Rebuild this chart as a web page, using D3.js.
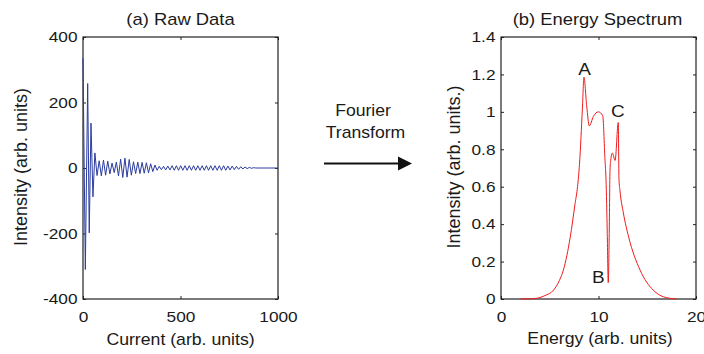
<!DOCTYPE html>
<html>
<head>
<meta charset="utf-8">
<script src="https://cdn.jsdelivr.net/npm/d3@7"></script>
<style>
  body { margin: 0; background: #fff; }
  svg { display: block; }
  text { font-family: "Liberation Sans", Arial, Helvetica, sans-serif; fill: #1a1a1a; }
</style>
</head>
<body>
<div id="chart"></div>
<script>
// (a) raw data: extrema of the damped oscillation
const rawCurrent = [0, 12, 24, 32, 41, 51, 61, 72, 83, 94, 105, 116, 127, 138, 149, 160,
  171, 182, 193, 204, 215, 226, 237, 248, 259, 270, 281, 292, 303, 314, 325, 336, 347,
  358, 369, 380, 391, 402, 413, 424, 435, 446, 457, 468, 479, 490, 501, 512, 523, 534,
  545, 556, 567, 578, 589, 600, 611, 622, 633, 644, 655, 666, 677, 688, 699, 710, 721,
  732, 743, 754, 765, 776, 787, 798, 809, 820, 831, 842, 853, 864, 875, 886, 1000];
const rawIntensity = [335, -310, 258, -198, 137, -88, 46, -23, 22, -24, 24, -22, 21, -18,
  15, -14, 18, -24, 27, -29, 30, -28, 26, -22, 19, -17, 18, -17, 17, -16, 16, -15, 13,
  -11, 9, -7, 5, -5, 5, -6, 6, -6, 7, -7, 7, -7, 7, -7, 7, -7, 7, -7, 7, -7, 7, -7, 7,
  -7, 7, -7, 7, -7, 7, -7, 7, -7, 7, -7, 6, -6, 6, -5, 5, -4, 4, -3, 3, -2, 2, -1, 1, 0, 0];

// (b) energy spectrum
const energy = [2, 3, 3.7, 4.5, 5.4, 6, 6.4, 7.1, 7.6, 7.85, 8.05, 8.2, 8.35, 8.51, 8.79,
  9.06, 9.47, 9.98, 10.43, 10.67, 10.77, 10.9, 11.0, 11.1, 11.18, 11.25, 11.42, 11.7,
  12.03, 12.1, 12.2, 12.55, 13.1, 14.26, 15.6, 16.5, 17.3, 18];
const spectrum = [0, 0.001, 0.004, 0.018, 0.048, 0.1, 0.155, 0.33, 0.51, 0.6, 0.72, 0.86,
  1.02, 1.185, 1.03, 0.925, 0.975, 1.0, 0.98, 0.74, 0.64, 0.35, 0.087, 0.35, 0.69, 0.74,
  0.78, 0.74, 0.943, 0.64, 0.58, 0.46, 0.33, 0.155, 0.048, 0.015, 0.004, 0];

const peakNames = ["A", "B", "C"];
const peakEnergy = [8.51, 11.0, 12.03];
const peakValue = [1.185, 0.087, 0.943];

const rawXTicks = [0, 500, 1000];
const rawYTicks = [-400, -200, 0, 200, 400];
const specXTicks = [0, 10, 20];
const specYTicks = [0, 0.2, 0.4, 0.6, 0.8, 1, 1.2, 1.4];

const W = 704, H = 354;
const plotTop = 37, plotBottom = 299;

const svg = d3.select("#chart").append("svg")
  .attr("width", W)
  .attr("height", H);

// text stretched a little across, like the picture
function label(x, y, str, size, sx, anchor, rotate) {
  return svg.append("text")
    .attr("transform", `translate(${x},${y})` + (rotate ? " rotate(-90)" : "") +
      ` scale(${rotate ? 1 : sx},${rotate ? sx : 1})`)
    .attr("text-anchor", anchor || "middle")
    .style("font-size", size + "px")
    .text(str);
}

function panel(x0, x1, xDomain, yDomain, xTicks, yTicks) {
  const x = d3.scaleLinear().domain(xDomain).range([x0, x1]);
  const y = d3.scaleLinear().domain(yDomain).range([plotBottom, plotTop]);
  const fmt = d => String(+d.toFixed(1));
  const sx = 1.15;

  const gx = svg.append("g")
    .attr("transform", `translate(0,${plotBottom})`)
    .call(d3.axisBottom(x).tickValues(xTicks).tickFormat(fmt)
      .tickSizeInner(-3).tickSizeOuter(0).tickPadding(12.5));
  const gy = svg.append("g")
    .attr("transform", `translate(${x0},0)`)
    .call(d3.axisLeft(y).tickValues(yTicks).tickFormat(fmt)
      .tickSizeInner(-3).tickSizeOuter(0).tickPadding(5.5 / sx));
  svg.append("g")
    .attr("transform", `translate(0,${plotTop})`)
    .call(d3.axisTop(x).tickValues(xTicks).tickFormat("")
      .tickSizeInner(-3).tickSizeOuter(0));
  svg.append("g")
    .attr("transform", `translate(${x1},0)`)
    .call(d3.axisRight(y).tickValues(yTicks).tickFormat("")
      .tickSizeInner(-3).tickSizeOuter(0));

  svg.selectAll(".tick line").attr("stroke", "#222");
  svg.selectAll(".domain").remove();
  [gx, gy].forEach(g => g.selectAll("text")
    .attr("fill", "#1a1a1a")
    .style("font-size", "15px")
    .style("font-family", '"Liberation Sans", Arial, sans-serif')
    .attr("transform", `scale(${sx},1)`));

  svg.append("rect")
    .attr("x", x0).attr("y", plotTop)
    .attr("width", x1 - x0).attr("height", plotBottom - plotTop)
    .attr("fill", "none")
    .attr("stroke", "#222")
    .attr("stroke-width", 1.2);
  return {x, y};
}

// (a) raw data
const a = panel(83, 278, [0, 1000], [-400, 400], rawXTicks, rawYTicks);
svg.append("path")
  .datum(d3.zip(rawCurrent, rawIntensity))
  .attr("fill", "none")
  .attr("stroke", "#2b3c9e")
  .attr("stroke-width", 1)
  .attr("d", d3.line().x(d => a.x(d[0])).y(d => a.y(d[1])));

label(180.5, 25, "(a) Raw Data", 16, 1.15);
label(180.5, 345, "Current (arb. units)", 17, 1.04);
label(26.5, 167, "Intensity (arb. units)", 18, 1, "middle", true);

// (b) energy spectrum
const b = panel(501, 696, [0, 20], [0, 1.4], specXTicks, specYTicks);
svg.append("path")
  .datum(d3.zip(energy, spectrum))
  .attr("fill", "none")
  .attr("stroke", "#ee1c1c")
  .attr("stroke-width", 1)
  .attr("d", d3.line().curve(d3.curveMonotoneX).x(d => b.x(d[0])).y(d => b.y(d[1])));

const peakDx = [0.5, -10, -0.5];
const peakDy = [-2.5, 0.5, -5.5];
peakNames.forEach((n, i) => {
  label(b.x(peakEnergy[i]) + peakDx[i], b.y(peakValue[i]) + peakDy[i], n, 16.5, 1.15);
});

label(597.5, 25, "(b) Energy Spectrum", 16, 1.15);
label(600, 343.5, "Energy (arb. units)", 17, 1.04);
label(460, 167, "Intensity (arb. units.)", 18, 1, "middle", true);

// arrow between the panels
label(363, 115.5, "Fourier", 16, 1.1);
label(365.5, 137.5, "Transform", 16, 1.1);
svg.append("line")
  .attr("x1", 324).attr("x2", 400)
  .attr("y1", 163.5).attr("y2", 163.5)
  .attr("stroke", "#111")
  .attr("stroke-width", 2.2);
svg.append("path")
  .attr("d", "M398,156.5L412,163.5L398,170.5Z")
  .attr("fill", "#111");
</script>
</body>
</html>
